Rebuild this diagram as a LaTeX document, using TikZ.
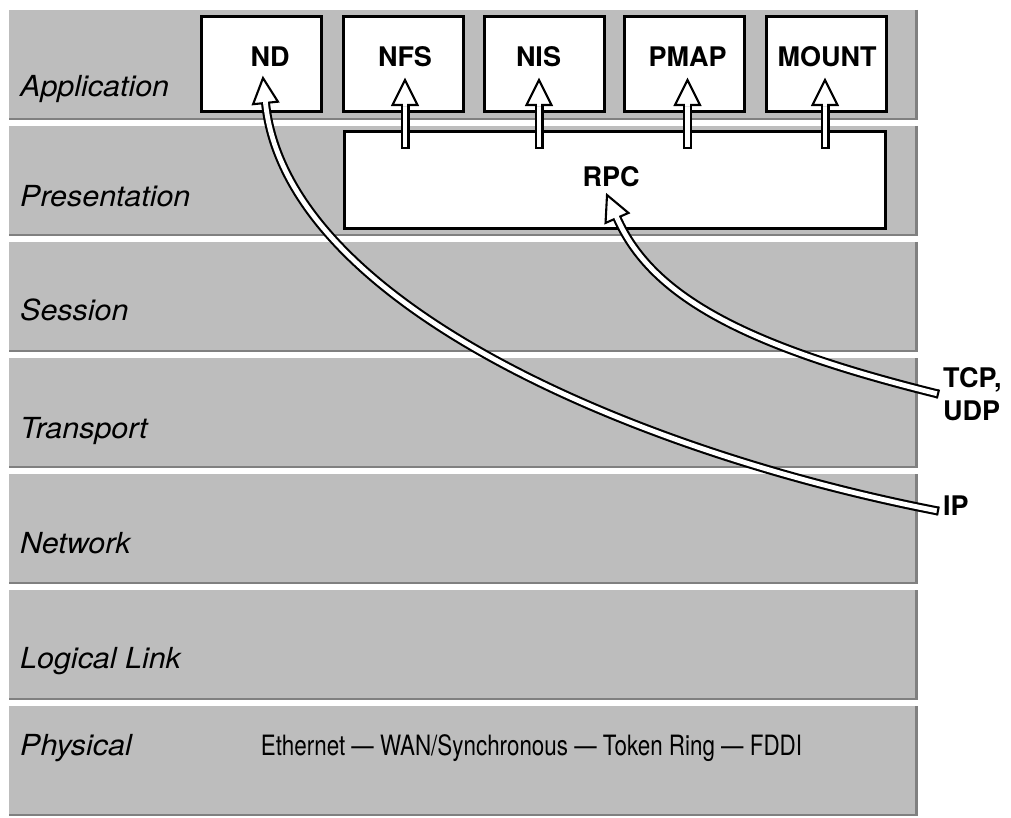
\documentclass[tikz,border=0pt]{standalone}
\usepackage{fontspec}
\usetikzlibrary{decorations.markings}
\newfontfamily\hv{TeX Gyre Heros}
\newfontfamily\hvwide[FakeStretch=1.05]{TeX Gyre Heros}
\newfontfamily\hvnarrow[FakeStretch=0.8]{TeX Gyre Heros}
\definecolor{band}{gray}{0.74}
\definecolor{bandedge}{gray}{0.5}

% hollow "pipe" arrows: a double line with an open triangular head
\tikzset{
  pipe/.style={draw=black, line width=2.1pt, double=white, double distance=4.8pt},
  pipetip/.style={decorate, decoration={markings,
      mark=at position 0.0001 with {\draw[line width=2.1pt] (0pt,-4.5pt) -- (0pt,4.5pt);},
      mark=at position 0.9999 with {
        \draw[line width=2.1pt, fill=white, line join=miter, miter limit=10]
          (0pt,0pt) -- (-25pt,12.5pt) -- (-25pt,-12.5pt) -- cycle;
        \fill[white] (-26.4pt,-2.4pt) rectangle (-23pt,2.4pt);}}},
  layer/.style={font=\hvwide\itshape\fontsize{29}{33}\selectfont, inner sep=0pt, anchor=base west},
  box/.style={draw=black, line width=3pt, fill=white, inner sep=0pt},
  boxlabel/.style={font=\hv\bfseries\fontsize{27}{30}\selectfont, inner sep=0pt, anchor=base},
  media/.style={font=\hvnarrow\fontsize{28}{32}\selectfont, inner sep=0pt, anchor=base},
}
\newcommand\pipearrow[1]{\draw[pipe, shorten >=24pt] #1; \path[pipetip] #1;}

\begin{document}
\begin{tikzpicture}[x=1pt, y=-1pt]
\useasboundingbox (0,0) rectangle (1011,818);

% the seven OSI layers, with the baseline of each layer name
\foreach \lab/\yb [count=\i from 0] in {Application/97,Presentation/207,Session/320,Transport/438,Network/553,Logical Link/668,Physical/755}{
  \pgfmathsetmacro\ytop{10+116*\i}
  \pgfmathsetmacro\ybot{\ytop+110}
  \fill[band] (9,\ytop) rectangle (918,\ybot);
  \draw[bandedge, line width=2pt] (9,\ybot-1) -- (918,\ybot-1);
  \draw[bandedge, line width=3pt] (916.5,\ytop) -- (916.5,\ybot);
  \node[layer] (layer\i) at (20,\yb) {\lab};
}

% physical media
\node[media] (media) at (531.5,755) {Ethernet — WAN/Synchronous — Token Ring — FDDI};

% application services
\node[box, minimum width=120pt, minimum height=95pt] (nd)    at (261.5,64) {};
\node[box, minimum width=120pt, minimum height=95pt] (nfs)   at (403.5,64) {};
\node[box, minimum width=120pt, minimum height=95pt] (nis)   at (544,64) {};
\node[box, minimum width=120pt, minimum height=95pt] (pmap)  at (684.5,64) {};
\node[box, minimum width=120pt, minimum height=95pt] (mount) at (826.5,64) {};
\node[boxlabel] (ndl)    at (270,67)   {ND};
\node[boxlabel] (nfsl)   at (405,67)   {NFS};
\node[boxlabel] (nisl)   at (538.5,67) {NIS};
\node[boxlabel] (pmapl)  at (687.5,67) {PMAP};
\node[boxlabel] (mountl) at (827,67)   {MOUNT};

% presentation: RPC
\node[box, minimum width=541pt, minimum height=97pt] (rpc) at (615,180) {};
\node[boxlabel] (rpcl) at (611,187) {RPC};

% transport / network labels on the right
\node[boxlabel, anchor=base west] (tcp) at (943,387) {TCP,};
\node[boxlabel, anchor=base west] (udp) at (943,420) {UDP};
\node[boxlabel, anchor=base west] (ip)  at (943,515) {IP};

% arrow end points
\coordinate (tcpend) at (938,394);
\coordinate (ipend)  at (938,511);
\coordinate (rpcin)  at (607,195);
\coordinate (ndin)   at (263,78);
\foreach \n/\x in {nfs/405, nis/539, pmap/687.5, mount/825}{
  \coordinate (\n foot) at (\x,148);
  \coordinate (\n in)   at (\x,80);
}

% RPC up to the services
\foreach \n in {nfs, nis, pmap, mount}{
  \pipearrow{(\n foot) -- (\n in)}
}

% TCP/UDP up to RPC, IP up to ND
\pipearrow{(tcpend) .. controls (744,346) and (651,296) .. (rpcin)}
\pipearrow{(ipend) .. controls (644,454) and (286,307) .. (ndin)}
\end{tikzpicture}
\end{document}
